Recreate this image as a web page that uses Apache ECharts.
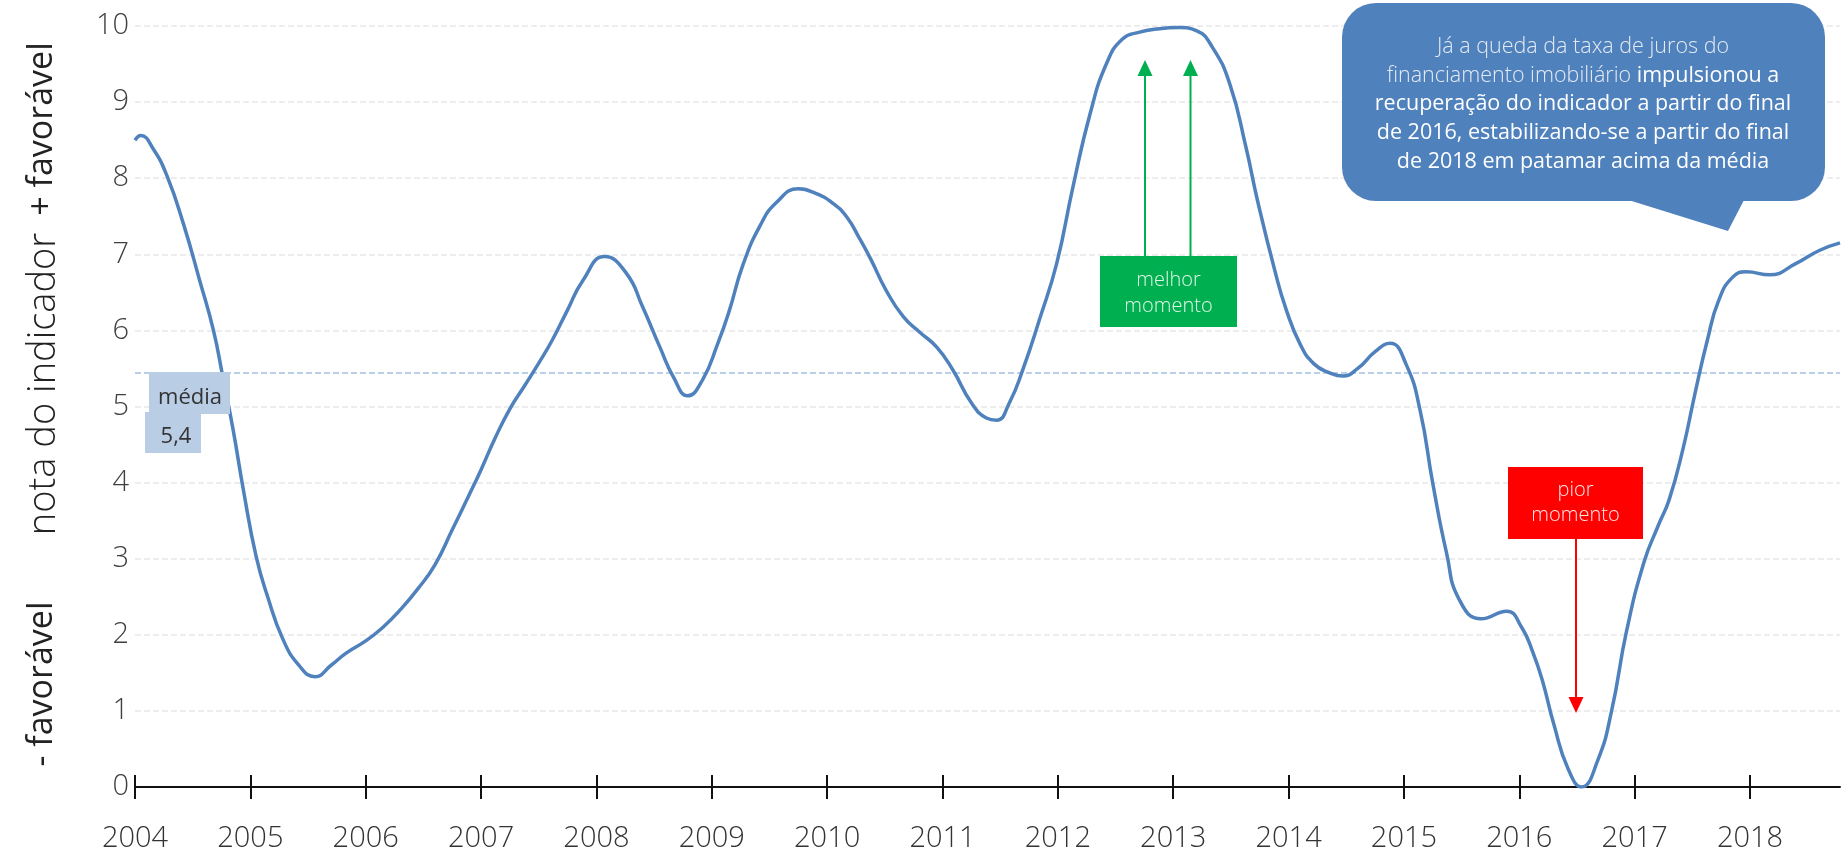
<!DOCTYPE html>
<html><head><meta charset="utf-8">
<script src="https://cdn.jsdelivr.net/npm/echarts@6/dist/echarts.min.js"></script>
<style>html,body{margin:0;padding:0;background:#fff}#c{width:1843px;height:853px}</style>
</head><body><div id="c"></div>
<script>
// ---- data ----
const yearTicks = [2004,2005,2006,2007,2008,2009,2010,2011,2012,2013,2014,2015,2016,2017,2018];
const yTicks = [0,1,2,3,4,5,6,7,8,9,10];
const timeX = [
  2004.00,2004.05,2004.16,2004.28,2004.42,2004.56,2004.68,2004.76,2004.85,2004.94,
  2005.05,2005.15,2005.28,2005.42,2005.56,2005.70,2005.83,
  2006.00,2006.15,2006.30,2006.45,2006.60,2006.75,2006.90,
  2007.00,2007.12,2007.25,2007.38,2007.50,2007.62,2007.75,2007.88,
  2008.07,2008.26,2008.40,2008.55,2008.67,2008.79,2008.92,
  2009.05,2009.15,2009.27,2009.42,2009.56,2009.75,2009.90,
  2010.05,2010.17,2010.28,2010.38,2010.51,2010.66,2010.80,2010.95,
  2011.09,2011.25,2011.38,2011.47,2011.58,2011.70,2011.84,2011.99,
  2012.13,2012.28,2012.42,2012.56,2012.71,2012.85,
  2013.05,2013.20,2013.34,2013.49,2013.63,2013.73,2013.88,2013.98,
  2014.10,2014.22,2014.36,2014.47,2014.60,2014.75,2014.88,
  2015.02,2015.14,2015.25,2015.37,2015.48,2015.67,2015.89,
  2016.02,2016.12,2016.20,2016.30,2016.42,2016.54,2016.68,2016.80,2016.93,
  2017.08,2017.20,2017.30,2017.42,2017.52,2017.63,2017.73,2017.85,2017.97,
  2018.17,2018.40,2018.60,2018.78
];
const notaValues = [
  8.50,8.56,8.38,8.02,7.40,6.66,6.00,5.40,4.70,3.90,
  3.03,2.50,1.95,1.60,1.45,1.60,1.76,
  1.92,2.10,2.33,2.60,2.92,3.38,3.85,
  4.17,4.58,4.97,5.28,5.57,5.88,6.27,6.65,
  6.97,6.75,6.31,5.78,5.38,5.14,5.35,
  5.82,6.25,6.86,7.38,7.68,7.86,7.80,
  7.67,7.49,7.21,6.93,6.53,6.18,5.98,5.78,
  5.48,5.05,4.85,4.82,5.05,5.50,6.14,6.88,
  7.88,8.85,9.50,9.83,9.92,9.96,
  9.98,9.94,9.72,9.24,8.41,7.71,6.79,6.27,
  5.82,5.56,5.44,5.40,5.50,5.72,5.83,
  5.55,4.95,3.99,3.07,2.46,2.21,2.31,
  2.10,1.76,1.40,0.82,0.25,0.00,0.35,1.00,2.05,
  2.95,3.42,3.78,4.45,5.15,5.87,6.40,6.70,6.77,
  6.73,6.88,7.05,7.15
];
const meanValue = 5.45;
const meanTexts = ['média', '5,4'];
const bestTexts = 'melhor\nmomento';
const worstTexts = 'pior\nmomento';
const axisTitles = ['nota do indicador', '+ favorável', '- favorável'];
const calloutLines = [
  '{l|Já a queda da taxa de juros do}',
  '{l|financiamento imobiliário }{r|impulsionou\u00a0a}',
  '{r|recuperação do indicador a partir do final}',
  '{r|de 2016, estabilizando-se a partir do final}',
  '{r|de 2018 em patamar acima da média}'
];

// ---- chart ----
const FF = "'Open Sans', 'Noto Sans', sans-serif";
const chart = echarts.init(document.getElementById('c'), null, {renderer:'canvas'});
const seriesData = timeX.map((x, i) => [x, notaValues[i]]);
const green = '#00b050', red = '#ff0000', blue = '#4f81bd';
const Z = 100;

function arrowUp(x, yBottom, yTip, color) {
  return [
    {type:'line', z:Z, shape:{x1:x, y1:yBottom, x2:x, y2:yTip+14}, style:{stroke:color, lineWidth:2}},
    {type:'polygon', z:Z, shape:{points:[[x-7.5, yTip+16],[x, yTip],[x+7.5, yTip+16]]}, style:{fill:color}}
  ];
}
function arrowDown(x, yTop, yTip, color) {
  return [
    {type:'line', z:Z, shape:{x1:x, y1:yTop, x2:x, y2:yTip-14}, style:{stroke:color, lineWidth:2}},
    {type:'polygon', z:Z, shape:{points:[[x-7.5, yTip-16],[x, yTip],[x+7.5, yTip-16]]}, style:{fill:color}}
  ];
}
const richStyles = {
  l:{fontSize:21.5, fontFamily:FF, fontWeight:300, fill:'#e4eaf3'},
  r:{fontSize:21.5, fontFamily:FF, fontWeight:'normal', fill:'#ffffff'}
};
const calloutTexts = calloutLines.map((t, i) => ({
  type:'text', z:Z+1, x:1583, y:47 + i*28.6,
  style:{text:t, align:'center', verticalAlign:'middle', rich:richStyles}
}));

const option = {
  backgroundColor:'#fff',
  animation:false,
  grid:{left:135, right:3, top:26, bottom:65, containLabel:false},
  xAxis:[{
    type:'value', min:2004, max:2018.78,
    axisLine:{show:true, onZero:false, lineStyle:{color:'#111', width:2}},
    axisTick:{show:true, length:12, customValues:yearTicks, lineStyle:{color:'#111', width:2}},
    axisLabel:{customValues:yearTicks, formatter:v=>String(Math.round(v)), fontSize:29, color:'#333', margin:37, fontFamily:FF, fontWeight:300},
    splitLine:{show:false}
  },{
    type:'value', min:2004, max:2018.78, position:'bottom', offset:0,
    axisLine:{show:false},
    axisTick:{show:true, inside:true, length:12, customValues:yearTicks, lineStyle:{color:'#111', width:2}},
    axisLabel:{show:false}, splitLine:{show:false}
  }],
  yAxis:{
    type:'value', min:yTicks[0], max:yTicks[yTicks.length-1], interval:1,
    axisLine:{show:false}, axisTick:{show:false},
    axisLabel:{fontSize:29, color:'#404040', margin:6, fontFamily:FF, fontWeight:300},
    splitLine:{show:true, lineStyle:{color:'#ededed', width:2, type:[6,3]}}
  },
  series:[{
    type:'line', data:seriesData, xAxisIndex:0, smooth:0.5, showSymbol:false,
    lineStyle:{color:blue, width:3.5}, itemStyle:{color:blue},
    markLine:{silent:true, symbol:'none', label:{show:false},
      lineStyle:{color:'#a6c0e2', width:1.5, type:[6,3]},
      data:[{yAxis:meanValue}], z:1}
  }],
  graphic:{elements:[
    // axis titles
    {type:'text', z:Z, x:44, y:384, rotation:Math.PI/2, style:{text:axisTitles[0], fontSize:38, fontFamily:FF, fontWeight:300, fill:'#222', align:'center', verticalAlign:'middle'}},
    {type:'text', z:Z, x:42, y:129, rotation:Math.PI/2, style:{text:axisTitles[1], fontSize:34, fontFamily:FF, fill:'#222', align:'center', verticalAlign:'middle'}},
    {type:'text', z:Z, x:42, y:684, rotation:Math.PI/2, style:{text:axisTitles[2], fontSize:34, fontFamily:FF, fill:'#222', align:'center', verticalAlign:'middle'}},
    // mean label boxes
    {type:'rect', z:Z, shape:{x:149, y:372, width:81, height:42}, style:{fill:'#b9cde5'}},
    {type:'rect', z:Z, shape:{x:145, y:412, width:56, height:41}, style:{fill:'#b9cde5'}},
    {type:'text', z:Z, x:190, y:398, style:{text:meanTexts[0], fontSize:22, fontFamily:FF, fill:'#333', align:'center', verticalAlign:'middle'}},
    {type:'text', z:Z, x:176, y:437, style:{text:meanTexts[1], fontSize:22, fontFamily:FF, fill:'#333', align:'center', verticalAlign:'middle'}},
    // best moment
    {type:'rect', z:Z, shape:{x:1100, y:256, width:137, height:71}, style:{fill:green}},
    {type:'text', z:Z, x:1168.5, y:293, style:{text:bestTexts, fontSize:20, lineHeight:26, fontFamily:FF, fontWeight:300, fill:'rgba(255,255,255,0.88)', align:'center', verticalAlign:'middle'}},
    ...arrowUp(1145, 256, 60, green),
    ...arrowUp(1190.5, 256, 60, green),
    // worst moment
    {type:'rect', z:Z, shape:{x:1508, y:467, width:135, height:72}, style:{fill:red}},
    {type:'text', z:Z, x:1575.5, y:503, style:{text:worstTexts, fontSize:20, lineHeight:25, fontFamily:FF, fontWeight:300, fill:'rgba(255,255,255,0.9)', align:'center', verticalAlign:'middle'}},
    ...arrowDown(1576, 539, 713, red),
    // callout
    {type:'polygon', z:Z, shape:{points:[[1622,198],[1728,231],[1745,198]]}, style:{fill:blue}},
    {type:'rect', z:Z, shape:{x:1342, y:3, width:483, height:198, r:34}, style:{fill:blue}},
    ...calloutTexts
  ]}
};
chart.setOption(option);
</script>
</body></html>
